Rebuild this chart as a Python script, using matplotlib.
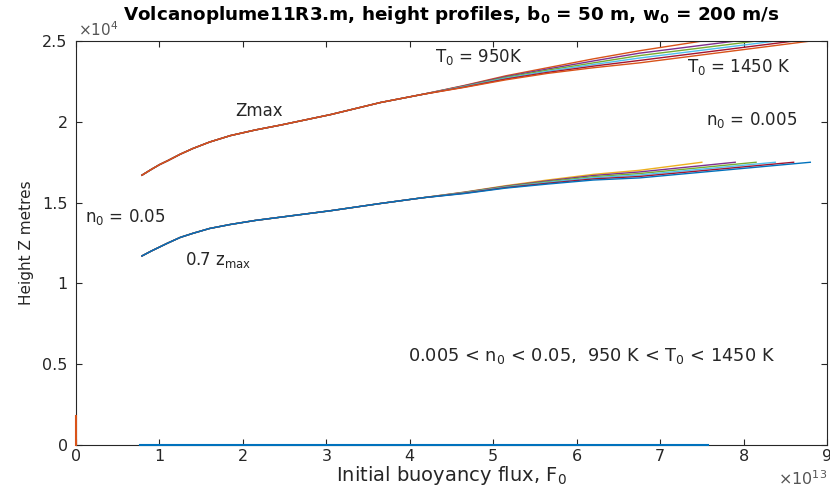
import matplotlib
matplotlib.use("Agg")
import matplotlib.pyplot as plt
import matplotlib.ticker as mticker

plt.rcParams['font.family'] = ['DejaVu Sans']
plt.rcParams['mathtext.fontset'] = 'dejavusans'

# buoyancy flux F0 in units of 1e13, heights in units of 1e4 m
f_head = [0.79, 0.9, 1.0, 1.1, 1.25, 1.4, 1.6, 1.85, 2.15, 2.45, 3.05, 3.65, 4.15]
zmax_head = [1.67, 1.705, 1.735, 1.76, 1.80, 1.835, 1.875, 1.915, 1.95, 1.98, 2.045, 2.12, 2.17]
z07_head = [1.17, 1.20, 1.225, 1.25, 1.285, 1.31, 1.34, 1.365, 1.39, 1.41, 1.45, 1.495, 1.53]

f_tail = [4.65, 5.15, 5.65, 6.2, 6.75]
T0 = [950, 1050, 1150, 1250, 1350, 1450]
zmax_T950 = [2.225, 2.285, 2.335, 2.39, 2.44]
zmax_T1050 = [2.223, 2.28, 2.327, 2.377, 2.425]
zmax_T1150 = [2.22, 2.275, 2.32, 2.365, 2.41]
zmax_T1250 = [2.218, 2.27, 2.313, 2.355, 2.395]
zmax_T1350 = [2.215, 2.265, 2.306, 2.345, 2.38]
zmax_T1450 = [2.213, 2.26, 2.30, 2.335, 2.365]
z07_T950 = [1.565, 1.605, 1.64, 1.675, 1.70]
z07_T1050 = [1.564, 1.602, 1.635, 1.668, 1.69]
z07_T1150 = [1.562, 1.599, 1.63, 1.661, 1.68]
z07_T1250 = [1.56, 1.596, 1.625, 1.654, 1.671]
z07_T1350 = [1.558, 1.593, 1.62, 1.647, 1.662]
z07_T1450 = [1.556, 1.59, 1.615, 1.64, 1.653]
f_end = [7.5, 7.9, 8.15, 8.38, 8.6, 8.8]
zmax_end = 2.5
z07_end = 1.75

zmax_tails = [zmax_T950, zmax_T1050, zmax_T1150, zmax_T1250, zmax_T1350, zmax_T1450]
z07_tails = [z07_T950, z07_T1050, z07_T1150, z07_T1250, z07_T1350, z07_T1450]

# stray zero lines in the original figure
zero_f = [0.77, 7.57]
zero_z = [0.0, 0.0]
axis_f = [0.0, 0.0]
axis_z = [0.0, 0.18]

upper_colors = ['#D95319', '#7E2F8E', '#77AC30', '#4DBEEE', '#A2142F', '#D95319']
lower_colors = ['#EDB120', '#7E2F8E', '#77AC30', '#4DBEEE', '#A2142F', '#0072BD']

FS, ZS = 1e13, 1e4

fig = plt.figure(figsize=(8.3, 5.01), dpi=100)
ax = fig.add_axes([0.0916, 0.1118, 0.9048, 0.8062])

for i in range(len(T0)):
    f = f_head + f_tail + [f_end[i]]
    zu = zmax_head + zmax_tails[i] + [zmax_end]
    zl = z07_head + z07_tails[i] + [z07_end]
    ax.plot([v * FS for v in f], [v * ZS for v in zu], color=upper_colors[i], lw=1.0)
    ax.plot([v * FS for v in f], [v * ZS for v in zl], color=lower_colors[i], lw=1.0)

ax.plot([v * FS for v in zero_f], [v * ZS for v in zero_z], color='#0072BD',
        lw=1.5, clip_on=False, zorder=5)
ax.plot([v * FS for v in axis_f], [v * ZS for v in axis_z], color='#D95319',
        lw=1.5, clip_on=False, zorder=5)

ax.set_xlim(0, 9 * FS)
ax.set_ylim(0, 2.5 * ZS)
ax.xaxis.set_major_locator(mticker.MultipleLocator(FS))
ax.yaxis.set_major_locator(mticker.MultipleLocator(0.5 * ZS))
ax.xaxis.set_major_formatter(mticker.FuncFormatter(lambda v, p: f'{v / FS:g}'))
ax.yaxis.set_major_formatter(mticker.FuncFormatter(lambda v, p: f'{v / ZS:g}'))

tc = '#262626'
ax.tick_params(direction='in', length=4, width=0.8, top=True, right=True,
               labelsize=11.5, colors=tc)
ax.tick_params(axis='x', pad=3)
ax.tick_params(axis='y', pad=6)
for s in ax.spines.values():
    s.set_color(tc)
    s.set_linewidth(0.8)

ax.set_xlabel('Initial buoyancy flux, F$_0$', fontsize=14, color=tc, labelpad=0)
ax.set_ylabel('Height Z metres', fontsize=11, color=tc, labelpad=6)
ax.set_title('Volcanoplume11R3.m, height profiles, b$_\\mathbf{0}$ = 50 m, w$_\\mathbf{0}$ = 200 m/s',
             fontsize=13.2, fontweight='bold', color='black', pad=15)

fig.text(0.094, 0.922, r'$\times10^4$', fontsize=11, color='#555555', va='bottom')
fig.text(0.997, 0.026, r'$\times10^{13}$', fontsize=11.5, color='#555555',
         va='bottom', ha='right')

tk = dict(fontsize=12, color=tc, va='center')
ax.text(2.19 * FS, 2.07 * ZS, 'Zmax', ha='center', **tk)
ax.text(4.3 * FS, 2.40 * ZS, 'T$_0$ = 950K', ha='left', **tk)
ax.text(7.32 * FS, 2.34 * ZS, 'T$_0$ = 1450 K', ha='left', **tk)
ax.text(7.55 * FS, 2.01 * ZS, 'n$_0$ = 0.005', ha='left', **tk)
ax.text(0.11 * FS, 1.41 * ZS, 'n$_0$ = 0.05', ha='left', **tk)
ax.text(1.31 * FS, 1.145 * ZS, '0.7 z$_\\mathrm{max}$', ha='left', **tk)
ax.text(3.98 * FS, 0.55 * ZS, '0.005 < n$_0$ < 0.05,  950 K < T$_0$ < 1450 K',
        ha='left', fontsize=12.8, color=tc, va='center')

fig.savefig('out.png', dpi=100)
